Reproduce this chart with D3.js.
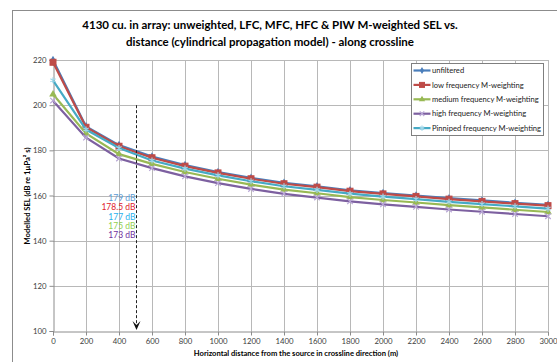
<!DOCTYPE html>
<html>
<head>
<meta charset="utf-8">
<script src="https://cdn.jsdelivr.net/npm/d3@7"></script>
<style>
  body { margin: 0; background: #fff; }
  svg { display: block; font-family: Lato, "Liberation Sans", sans-serif; }
</style>
</head>
<body>
<svg id="chart" width="557" height="362"></svg>
<script>
// distances along crossline (m)
var distances = [0, 200, 400, 600, 800, 1000, 1200, 1400, 1600, 1800, 2000, 2200, 2400, 2600, 2800, 3000]

var unfiltered = [220, 190.6, 182.3, 177.2, 173.5, 170.4, 167.8, 165.6, 164.1, 162.3, 161.1, 160.0, 158.8, 157.8, 156.8, 155.9]
var lowFreq    = [219, 190.2, 181.8, 176.7, 173.0, 170.0, 167.4, 165.2, 163.7, 161.9, 160.7, 159.6, 158.4, 157.4, 156.4, 155.5]
var medFreq    = [204.8, 187.5, 178.3, 174.0, 170.4, 167.4, 164.8, 162.6, 161.0, 159.3, 158.0, 156.9, 155.7, 154.7, 153.7, 152.7]
var highFreq   = [202, 185.6, 176.4, 172.1, 168.5, 165.5, 162.9, 160.7, 159.1, 157.4, 156.1, 155.0, 153.8, 152.8, 151.8, 150.8]
var pinniped   = [211, 189.2, 181.0, 175.5, 171.9, 168.9, 166.3, 164.1, 162.5, 160.8, 159.5, 158.4, 157.2, 156.2, 155.2, 154.2]

var seriesNames = ["unfiltered", "low frequency M-weighting", "medium frequency M-weighting", "high frequency M-weighting", "Pinniped frequency M-weighting"]

var xTicks = [0, 200, 400, 600, 800, 1000, 1200, 1400, 1600, 1800, 2000, 2200, 2400, 2600, 2800, 3000]
var yTicks = [100, 120, 140, 160, 180, 200, 220]

// annotation at 500 m
var arrowDistance = 500
var arrowFrom = 200
var arrowTo = 100
var notes = ["179 dB", "178.5 dB", "177 dB", "175 dB", "173 dB"]
var noteColors = ["#5b9bd5", "#e0202a", "#1fb0ee", "#92d050", "#7030a0"]

var dimensions = {
    width: 557,
    height: 362,
    margin: { top: 60, bottom: 31, left: 53, right: 9 }
}

var series = [
    { name: seriesNames[0], values: unfiltered, color: "#4a7ebb", shape: "diamond" },
    { name: seriesNames[1], values: lowFreq, color: "#be4b48", shape: "square" },
    { name: seriesNames[2], values: medFreq, color: "#98b954", shape: "triangle" },
    { name: seriesNames[3], values: highFreq, color: "#7d60a0", shape: "x" },
    { name: seriesNames[4], values: pinniped, color: "#46aac5", shape: "star" }
]

var svg = d3.select("#chart")

// outer chart frame
svg.append("rect")
   .attr("x", 12.5).attr("y", 10.5)
   .attr("width", 560).attr("height", 380)
   .attr("fill", "#fff")
   .attr("stroke", "#8c8c8c")

var xScale = d3.scaleLinear()
               .domain([0, 3000])
               .range([dimensions.margin.left, dimensions.width - dimensions.margin.right])

var yScale = d3.scaleLinear()
               .domain([100, 220])
               .range([dimensions.height - dimensions.margin.bottom, dimensions.margin.top])

// gridlines
svg.append("g").selectAll("line")
   .data(xTicks.slice(1))
   .enter().append("line")
   .attr("x1", d => Math.round(xScale(d)) + 0.5).attr("x2", d => Math.round(xScale(d)) + 0.5)
   .attr("y1", yScale(220)).attr("y2", yScale(100))
   .attr("stroke", "#b8b8b8")

svg.append("g").selectAll("line")
   .data(yTicks.slice(1))
   .enter().append("line")
   .attr("x1", xScale(0)).attr("x2", xScale(3000))
   .attr("y1", d => Math.round(yScale(d)) + 0.5).attr("y2", d => Math.round(yScale(d)) + 0.5)
   .attr("stroke", "#b8b8b8")

var xAxisGen = d3.axisBottom(xScale).tickValues(xTicks).tickFormat(d3.format("d")).tickSize(4).tickPadding(3)
var xAxis = svg.append("g")
               .attr("transform", `translate(0, ${Math.round(yScale(100)) + 0.5})`)
               .call(xAxisGen)

var yAxisGen = d3.axisLeft(yScale).tickValues(yTicks).tickFormat(d3.format("d")).tickSize(4).tickPadding(3)
var yAxis = svg.append("g")
               .attr("transform", `translate(${Math.round(xScale(0)) + 0.5}, 0)`)
               .call(yAxisGen)

;[xAxis, yAxis].forEach(a => {
    a.select(".domain").attr("stroke", "#8c8c8c")
    a.selectAll(".tick line").attr("stroke", "#8c8c8c")
    a.selectAll(".tick text").attr("fill", "#404040").style("font-size", "7.8px").style("font-family", "Lato, sans-serif")
})

// lines
var lineGen = d3.line()
                .x((d, i) => xScale(distances[i]))
                .y(d => yScale(d))

function drawMarker(g, shape, color, size) {
    if (shape == "square") {
        g.append("rect").attr("x", -size / 2).attr("y", -size / 2).attr("width", size).attr("height", size)
         .attr("fill", color).attr("stroke", color)
    } else if (shape == "diamond") {
        g.append("path").attr("d", d3.symbol(d3.symbolDiamond, size * size * 0.6)).attr("fill", color)
    } else if (shape == "triangle") {
        g.append("path").attr("d", d3.symbol(d3.symbolTriangle, size * size * 0.7)).attr("fill", color)
    } else if (shape == "x") {
        g.append("path").attr("d", d3.symbol(d3.symbolX, size * size * 0.6)).attr("fill", "none")
         .attr("stroke", "#b9a7d6").attr("stroke-width", 1.2)
    } else if (shape == "star") {
        g.append("path").attr("d", d3.symbol(d3.symbolAsterisk, size * size * 0.7)).attr("fill", "none")
         .attr("stroke", "#9fd6e8").attr("stroke-width", 1.2)
    }
}

series.forEach(s => {
    svg.append("path")
       .datum(s.values)
       .attr("d", lineGen)
       .attr("fill", "none")
       .attr("stroke", s.color)
       .attr("stroke-width", 2.2)

    s.values.forEach((v, i) => {
        var g = svg.append("g").attr("transform", `translate(${xScale(distances[i])}, ${yScale(v)})`)
        drawMarker(g, s.shape, s.color, 6)
    })
})

// dashed arrow at 500 m
var ax = Math.round(xScale(arrowDistance)) + 0.5
svg.append("line")
   .attr("x1", ax).attr("x2", ax)
   .attr("y1", yScale(arrowFrom)).attr("y2", yScale(arrowTo) - 2)
   .attr("stroke", "#222").attr("stroke-width", 1)
   .attr("stroke-dasharray", "3,2")
svg.append("path")
   .attr("d", `M${ax - 4},${yScale(arrowTo) - 10} L${ax},${yScale(arrowTo) - 1} L${ax + 4},${yScale(arrowTo) - 10} L${ax},${yScale(arrowTo) - 6} Z`)
   .attr("fill", "#111")

svg.append("g").selectAll("text")
   .data(notes)
   .enter().append("text")
   .attr("x", ax - 1)
   .attr("y", (d, i) => 201 + i * 9.35)
   .attr("text-anchor", "end")
   .attr("fill", (d, i) => noteColors[i])
   .style("font-size", "8.5px")
   .text(d => d)

// legend
var legend = svg.append("g").attr("transform", "translate(411.5, 63.5)")
legend.append("rect")
      .attr("width", 132).attr("height", 72)
      .attr("fill", "#fff").attr("stroke", "#7f7f7f")

series.forEach((s, i) => {
    var ly = 7 + i * 14.4
    legend.append("line")
          .attr("x1", 2).attr("x2", 19)
          .attr("y1", ly).attr("y2", ly)
          .attr("stroke", s.color).attr("stroke-width", 2.2)
    drawMarker(legend.append("g").attr("transform", `translate(10.5, ${ly})`), s.shape, s.color, 5)
    legend.append("text")
          .attr("x", 20.5).attr("y", ly)
          .attr("dy", "0.35em")
          .attr("fill", "#222")
          .style("font-size", "7.6px")
          .text(s.name)
})

// axis titles
svg.append("text")
   .attr("x", 296).attr("y", 356)
   .attr("text-anchor", "middle")
   .style("font-size", "7.6px").style("font-weight", "bold")
   .text("Horizontal distance from the source in crossline direction (m)")

svg.append("text")
   .attr("transform", "translate(30, 196) rotate(-90)")
   .attr("text-anchor", "middle")
   .style("font-size", "7.6px").style("font-weight", "bold")
   .text("Modelled SEL (dB re 1µPa² s)")

// title
var title = svg.append("text")
               .attr("text-anchor", "middle")
               .style("font-size", "11.5px").style("font-weight", "bold")
title.append("tspan").attr("x", 270).attr("y", 29)
     .text("4130 cu. in array: unweighted, LFC, MFC, HFC & PIW M-weighted SEL vs.")
title.append("tspan").attr("x", 270).attr("y", 46)
     .text("distance (cylindrical propagation  model) - along crossline")
</script>
</body>
</html>
